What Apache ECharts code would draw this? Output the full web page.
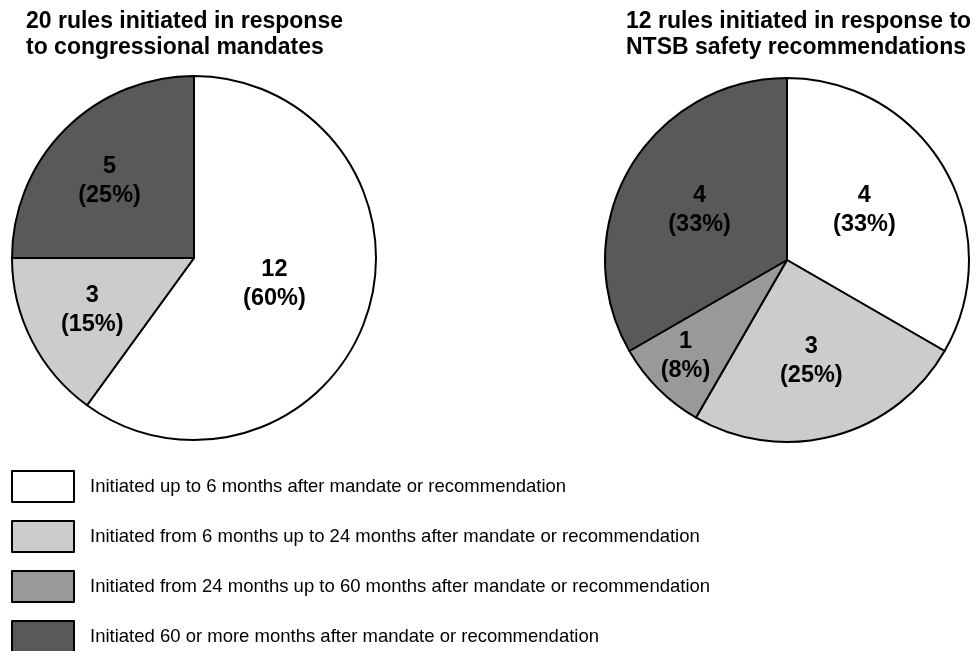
<!DOCTYPE html>
<html>
<head>
<meta charset="utf-8">
<script src="https://cdn.jsdelivr.net/npm/echarts@6/dist/echarts.min.js"></script>
<style>
html,body{margin:0;padding:0;background:#fff;}
#chart{width:978px;height:651px;}
</style>
</head>
<body>
<div id="chart"></div>
<script>
const categories = [
  'Initiated up to 6 months after mandate or recommendation',
  'Initiated from 6 months up to 24 months after mandate or recommendation',
  'Initiated from 24 months up to 60 months after mandate or recommendation',
  'Initiated 60 or more months after mandate or recommendation'
];
const congressionalValues = [12, 3, 0, 5];
const ntsbValues = [4, 3, 1, 4];
const leftTitle = '20 rules initiated in response\nto congressional mandates';
const rightTitle = '12 rules initiated in response to\nNTSB safety recommendations';

const colors = ['#ffffff', '#cccccc', '#999999', '#595959'];
const leftNudge = [[-9, -3], [-18, 9], [0, 0], [-18, -11]];
const rightNudge = [[-4, -3], [0, 10], [-35, 30], [-6, -3]];
const FONT = '"Liberation Sans", Arial, Helvetica, sans-serif';

function buildData(values, nudges) {
  const total = values.reduce((a, b) => a + b, 0);
  const out = [];
  values.forEach((v, i) => {
    if (v <= 0) return;
    out.push({
      name: categories[i],
      value: v,
      pct: Math.round(v / total * 100),
      itemStyle: { color: colors[i] },
      label: { offset: nudges[i] }
    });
  });
  return out;
}

const chart = echarts.init(document.getElementById('chart'), null, { renderer: 'canvas' });

const seriesCommon = {
  type: 'pie',
  radius: 182,
  startAngle: 90,
  clockwise: true,
  silent: true,
  animation: false,
  itemStyle: { borderColor: '#000', borderWidth: 2 },
  label: {
    show: true,
    position: 'inside',
    color: '#000',
    fontFamily: FONT,
    fontWeight: 'bold',
    fontSize: 23.5,
    lineHeight: 29,
    align: 'center',
    formatter: function (p) { return p.value + '\n(' + p.data.pct + '%)'; }
  },
  labelLine: { show: false },
  emphasis: { disabled: true }
};

const titleStyle = { fontFamily: FONT, fontWeight: 'bold', fontSize: 23, lineHeight: 26, color: '#000' };

chart.setOption({
  backgroundColor: '#fff',
  animation: false,
  title: [
    { text: leftTitle, left: 26, top: 9, padding: 0, textStyle: titleStyle },
    { text: rightTitle, left: 626, top: 9, padding: 0, textStyle: titleStyle }
  ],
  legend: {
    orient: 'vertical',
    left: 11,
    top: 470,
    padding: 0,
    height: 200,
    itemWidth: 62,
    itemHeight: 31,
    itemGap: 17,
    icon: 'rect',
    selectedMode: false,
    data: categories,
    itemStyle: { borderColor: '#000', borderWidth: 2 },
    textStyle: { fontFamily: FONT, fontSize: 18.5, lineHeight: 20, color: '#000', padding: [4, 0, 0, 11] }
  },
  series: [
    Object.assign({}, seriesCommon, { name: 'congressional', center: [194, 258], data: buildData(congressionalValues, leftNudge) }),
    Object.assign({}, seriesCommon, { name: 'ntsb', center: [787, 260], data: buildData(ntsbValues, rightNudge) })
  ]
});
</script>
</body>
</html>
